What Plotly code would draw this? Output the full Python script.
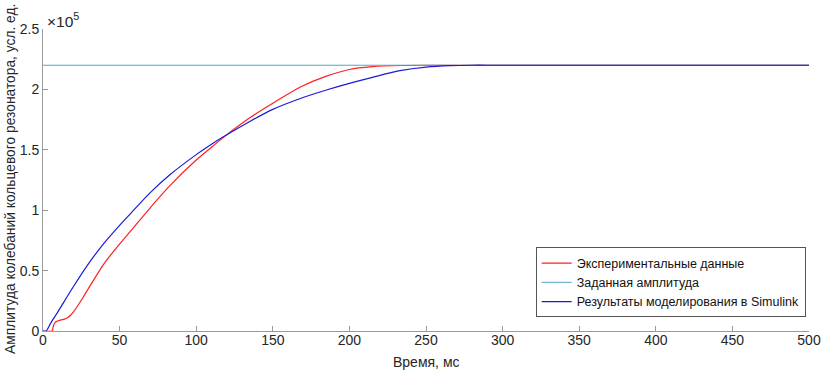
import plotly.graph_objects as go

# ---- data (amplitude in conventional units) ----
exp_t = [0, 6, 6.5, 7, 8, 9, 10, 12, 14, 16, 18, 20, 23, 26, 32, 40, 50, 57, 70, 83, 100,
         108, 118, 135, 150, 168, 185, 200, 215, 233, 250, 270, 300, 400, 500]
exp_a = [0, 0, 2500, 5000, 7200, 8000, 8500, 9200, 9800, 11000, 13000, 16000, 21500,
         27500, 40000, 56000, 72000, 82500, 102000, 120500, 141500, 150000, 160500, 176500,
         188500, 202000, 211000, 216500, 218800, 219800, 220000, 220000, 220000, 220000, 220000]

set_t = [0, 500]
set_a = [220000, 220000]

sim_t = [0, 2, 5, 10, 20, 31, 40, 50, 57, 70, 83, 100, 108, 118, 135, 150, 168, 185,
         200, 215, 233, 250, 266, 280, 290, 300, 400, 500]
sim_a = [0, 0, 6500, 16500, 37000, 58000, 73000, 87500, 97000, 114500, 129500, 146000,
         153000, 161000, 173500, 183500, 192500, 199500, 205000, 210000, 215500, 218500,
         219700, 220000, 220000, 220000, 220000, 220000]

x_ticks = [0, 50, 100, 150, 200, 250, 300, 350, 400, 450, 500]
y_ticks = [0, 50000, 100000, 150000, 200000, 250000]
y_tick_labels = ["0", "0.5", "1", "1.5", "2", "2.5"]

names = ["Экспериментальные данные", "Заданная амплитуда", "Результаты моделирования в Simulink"]
x_title = "Время, мс"
y_title = "Амплитуда колебаний кольцевого резонатора, усл. ед."

FONT = "Liberation Sans, Arial, sans-serif"
AX = "#9a9a9a"
TXT = "#262626"

fig = go.Figure()
fig.add_trace(go.Scatter(x=exp_t, y=exp_a, mode="lines", name=names[0],
                         line=dict(color="#ff2020", width=1.2, shape="spline", smoothing=0.8)))
fig.add_trace(go.Scatter(x=set_t, y=set_a, mode="lines", name=names[1],
                         line=dict(color="#4fa9c2", width=1)))
fig.add_trace(go.Scatter(x=sim_t, y=sim_a, mode="lines", name=names[2],
                         line=dict(color="#1a1ad8", width=1.2, shape="spline", smoothing=0.8)))

fig.update_layout(
    width=824, height=372,
    margin=dict(l=43, r=15, t=29, b=41),
    paper_bgcolor="white", plot_bgcolor="white",
    font=dict(family=FONT, size=14, color=TXT),
    showlegend=True,
    legend=dict(x=0.9957, y=0.045, xanchor="right", yanchor="bottom",
                bgcolor="white", bordercolor="#555555", borderwidth=1,
                font=dict(size=12.5, color="#111111"),
                tracegroupgap=0, itemwidth=30),
    xaxis=dict(range=[0, 500], tickvals=x_ticks, showgrid=False, zeroline=False,
               showline=True, linecolor=AX, linewidth=1, automargin=False,
               ticks="inside", ticklen=5, tickcolor=AX, ticklabelstandoff=-4,
               tickfont=dict(size=14, color=TXT)),
    yaxis=dict(range=[0, 250000], tickvals=y_ticks, ticktext=y_tick_labels,
               showgrid=False, zeroline=False, automargin=False,
               showline=True, linecolor=AX, linewidth=1,
               ticks="inside", ticklen=5, tickcolor=AX,
               tickfont=dict(size=14, color=TXT)),
)

# axis titles
fig.add_annotation(xref="paper", yref="paper", x=0.5, y=-0.103, xanchor="center",
                   yanchor="middle", showarrow=False, text=x_title,
                   font=dict(size=14, color=TXT))
fig.add_annotation(xref="paper", yref="paper", x=-0.0425, y=0.505, xanchor="center",
                   yanchor="middle", showarrow=False, text=y_title, textangle=-90,
                   font=dict(size=13.8, color=TXT))
# exponent
fig.add_annotation(xref="paper", yref="paper", x=0.003, y=0.99, xanchor="left",
                   yanchor="bottom", showarrow=False,
                   text="×10<sup>5</sup>", font=dict(size=15.5, color=TXT))

fig.write_html("out.html", config={"displayModeBar": False},
               post_script="document.body.style.margin='0';document.body.style.overflow='hidden';")
